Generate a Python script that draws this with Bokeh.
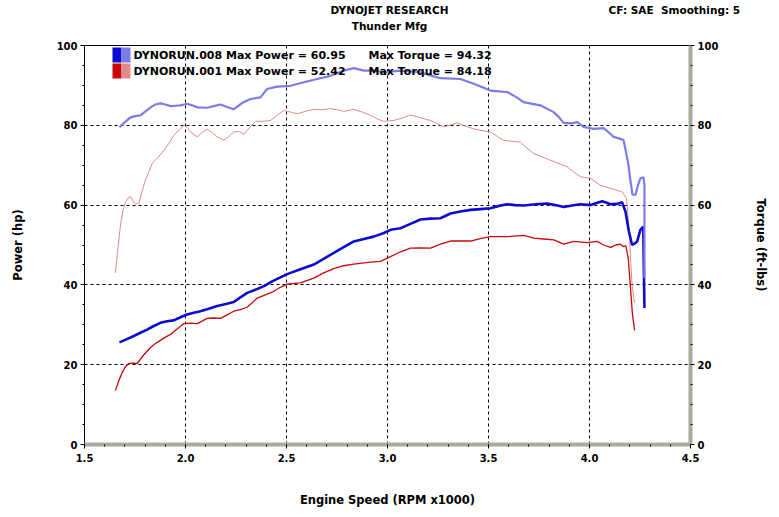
from bokeh.plotting import figure
from bokeh.models import (Range1d, LinearAxis, SingleIntervalTicker, FixedTicker, Label,
                          BoxAnnotation, NumeralTickFormatter)
from bokeh.embed import file_html
from bokeh.resources import INLINE

# ---------------- data ----------------
run_names = ["DYNORUN.008", "DYNORUN.001"]
max_power = [60.95, 52.42]
max_torque = [94.32, 84.18]

header_title = "DYNOJET RESEARCH"
header_sub = "Thunder Mfg"
header_right = "CF: SAE\u00a0 Smoothing: 5"

rpm_pw008 = [1.673, 1.710, 1.744, 1.777, 1.810, 1.843, 1.876, 1.909, 1.942, 1.975, 2.008, 2.041,
             2.074, 2.107, 2.157, 2.200, 2.239, 2.270, 2.305, 2.337, 2.388, 2.429, 2.470, 2.503,
             2.569, 2.635, 2.734, 2.833, 2.883, 2.932, 2.982, 3.015, 3.064, 3.114, 3.163, 3.212,
             3.262, 3.312, 3.361, 3.411, 3.460, 3.510, 3.551, 3.592, 3.634, 3.675, 3.733, 3.790,
             3.830, 3.873, 3.914, 3.955, 4.005, 4.035, 4.063, 4.085, 4.104, 4.135, 4.162, 4.178,
             4.195, 4.211, 4.224, 4.236, 4.252, 4.266, 4.272]
pw008 = [25.6, 26.4, 27.2, 28.0, 28.8, 29.7, 30.5, 30.9, 31.1, 31.9, 32.6, 33.0,
         33.4, 33.9, 34.7, 35.2, 35.7, 36.8, 38.0, 38.6, 39.7, 40.9, 41.9, 42.7,
         43.9, 45.1, 48.0, 50.9, 51.5, 52.1, 53.0, 53.8, 54.2, 55.3, 56.4, 56.6,
         56.7, 57.9, 58.4, 58.8, 59.0, 59.2, 59.8, 60.2, 60.0, 59.9, 60.2, 60.4,
         60.0, 59.5, 59.9, 60.2, 60.0, 60.5, 60.95, 60.6, 60.2, 60.3, 60.7, 58.4,
         53.4, 50.0, 50.4, 50.9, 53.8, 54.6, 34.2]

rpm_tq008 = [1.673, 1.700, 1.728, 1.752, 1.777, 1.802, 1.827, 1.851, 1.876, 1.901, 1.926, 1.950,
             1.975, 2.008, 2.033, 2.058, 2.107, 2.140, 2.173, 2.206, 2.238, 2.262, 2.287, 2.322,
             2.371, 2.404, 2.454, 2.520, 2.586, 2.652, 2.718, 2.784, 2.833, 2.883, 2.932, 2.982,
             3.064, 3.163, 3.212, 3.262, 3.361, 3.427, 3.510, 3.594, 3.640, 3.673, 3.757, 3.822,
             3.850, 3.871, 3.910, 3.940, 3.970, 4.020, 4.070, 4.100, 4.119, 4.153, 4.168, 4.180,
             4.193, 4.203, 4.213, 4.228, 4.240, 4.252, 4.267, 4.272, 4.272]
tq008 = [79.5, 80.8, 82.0, 82.3, 82.5, 83.5, 84.5, 85.2, 85.5, 85.2, 84.8, 84.9,
         85.0, 85.4, 85.0, 84.5, 84.4, 84.8, 85.2, 84.6, 84.0, 84.9, 85.8, 86.6,
         87.0, 89.1, 89.7, 89.9, 90.8, 91.6, 92.4, 93.7, 94.32, 93.7, 93.7, 93.3,
         93.7, 93.3, 92.5, 91.8, 91.6, 90.4, 88.7, 88.3, 87.0, 85.8, 85.0, 83.3,
         82.0, 80.6, 80.5, 80.8, 79.6, 79.1, 79.3, 78.0, 77.1, 76.6, 76.3, 73.5,
         70.0, 66.0, 62.6, 62.6, 65.0, 66.7, 67.0, 65.0, 41.7]

rpm_pw001 = [1.653, 1.670, 1.686, 1.703, 1.719, 1.740, 1.761, 1.794, 1.827, 1.851, 1.876, 1.901,
             1.926, 1.960, 1.992, 2.025, 2.058, 2.107, 2.140, 2.173, 2.206, 2.239, 2.272, 2.305,
             2.330, 2.355, 2.396, 2.437, 2.470, 2.503, 2.569, 2.635, 2.684, 2.734, 2.783, 2.833,
             2.916, 2.965, 3.015, 3.064, 3.114, 3.163, 3.213, 3.262, 3.312, 3.361, 3.411, 3.460,
             3.510, 3.592, 3.640, 3.675, 3.724, 3.773, 3.823, 3.873, 3.922, 3.988, 4.038, 4.070,
             4.104, 4.130, 4.153, 4.166, 4.180, 4.192, 4.202, 4.212, 4.223]
pw001 = [13.5, 16.0, 18.0, 19.5, 20.3, 20.4, 20.3, 22.5, 24.3, 25.3, 26.1, 26.9,
         27.6, 29.0, 30.3, 30.4, 30.3, 31.6, 31.7, 31.6, 32.5, 33.4, 33.8, 34.4,
         35.5, 36.7, 37.5, 38.4, 39.4, 40.2, 40.5, 41.7, 43.0, 44.1, 44.8, 45.2,
         45.7, 45.9, 47.1, 48.3, 49.2, 49.3, 49.2, 50.2, 51.0, 51.0, 51.0, 51.6,
         52.1, 52.1, 52.3, 52.42, 51.7, 51.5, 51.3, 50.2, 50.9, 50.6, 50.9, 50.0,
         49.4, 50.0, 50.2, 49.6, 49.8, 46.5, 40.0, 33.0, 28.6]

rpm_tq001 = [1.653, 1.665, 1.678, 1.690, 1.703, 1.716, 1.728, 1.740, 1.752, 1.769, 1.785, 1.802,
             1.835, 1.864, 1.893, 1.918, 1.942, 1.975, 1.992, 2.008, 2.025, 2.058, 2.083, 2.107,
             2.132, 2.157, 2.190, 2.214, 2.239, 2.264, 2.289, 2.318, 2.347, 2.384, 2.421, 2.454,
             2.487, 2.520, 2.553, 2.594, 2.635, 2.676, 2.718, 2.751, 2.784, 2.833, 2.875, 2.916,
             2.949, 2.982, 3.031, 3.073, 3.114, 3.163, 3.213, 3.246, 3.279, 3.345, 3.386, 3.427,
             3.510, 3.545, 3.576, 3.658, 3.690, 3.724, 3.790, 3.840, 3.889, 3.922, 3.955, 4.005,
             4.054, 4.104, 4.162, 4.183, 4.195, 4.203, 4.211, 4.223]
tq001 = [43.0, 49.0, 55.0, 58.5, 60.8, 61.8, 62.1, 61.0, 60.2, 60.5, 63.5, 66.3,
         70.4, 72.0, 73.7, 75.5, 77.5, 79.1, 80.0, 79.5, 78.3, 77.1, 78.2, 79.0,
         78.2, 77.1, 76.3, 77.2, 78.3, 78.5, 77.7, 79.5, 81.0, 81.0, 81.2, 82.5,
         83.7, 83.3, 82.9, 83.5, 84.0, 83.9, 84.18, 83.9, 83.5, 84.0, 83.3, 82.5,
         81.6, 81.0, 81.2, 81.8, 82.6, 81.9, 81.2, 80.4, 79.6, 80.6, 79.8, 79.1,
         78.3, 77.2, 76.2, 75.8, 74.3, 72.9, 71.6, 70.6, 69.6, 68.3, 67.1, 66.7,
         65.0, 64.2, 63.3, 61.7, 55.0, 46.7, 40.0, 35.5]

x_ticks_interval = 0.5
y_ticks_interval = 20

# ---------------- figure ----------------
FONT = "DejaVu Sans"

p = figure(width=779, height=517, x_range=Range1d(1.5, 4.5), y_range=Range1d(0, 100),
           output_backend="svg", toolbar_location=None,
           min_border_left=84, min_border_right=89, min_border_top=43, min_border_bottom=73)
p.extra_y_ranges = {"tq": Range1d(0, 100)}
p.background_fill_color = "white"
p.border_fill_color = "white"
p.outline_line_color = "black"
p.outline_line_width = 1

xt = SingleIntervalTicker(interval=x_ticks_interval, num_minor_ticks=5)
yt = SingleIntervalTicker(interval=y_ticks_interval, num_minor_ticks=4)

p.xaxis.ticker = xt
p.yaxis.ticker = yt
p.xgrid.ticker = xt
p.ygrid.ticker = yt
for g in (p.xgrid, p.ygrid):
    g.grid_line_color = "black"
    g.grid_line_dash = "3 3"
    g.grid_line_width = 1

right_axis = LinearAxis(y_range_name="tq", ticker=yt)
p.add_layout(right_axis, "right")

p.xaxis.formatter = NumeralTickFormatter(format="0.0")

shadow = "#a9a9a0"
for ax in (p.xaxis[0], p.yaxis[0], right_axis):
    ax.axis_line_color = None
    ax.major_tick_line_color = "black"
    ax.minor_tick_line_color = "black"
    ax.major_tick_out = 4
    ax.major_tick_in = 0
    ax.minor_tick_out = 2
    ax.minor_tick_in = 0
    ax.major_label_text_font = FONT
    ax.major_label_text_font_style = "bold"
    ax.major_label_text_font_size = "10px"
    ax.major_label_text_color = "black"
    ax.axis_label_text_font = FONT
    ax.axis_label_text_font_style = "bold"
    ax.axis_label_text_color = "black"

# grey "shadow" band along the bottom and right edges of the frame
for ax in (p.xaxis[0], right_axis):
    ax.axis_line_color = shadow
    ax.axis_line_width = 4

p.xaxis.axis_label = "Engine Speed (RPM x1000)"
p.xaxis.axis_label_text_font_size = "11.5px"
p.xaxis.major_label_standoff = 5
p.xaxis.axis_label_standoff = 28

p.yaxis[0].axis_label = "Power (hp)"
p.yaxis[0].axis_label_text_font_size = "11.5px"
p.yaxis[0].major_label_standoff = 3
p.yaxis[0].axis_label_standoff = 29

right_axis.axis_label = "Torque (ft-lbs)"
right_axis.axis_label_text_font_size = "11.5px"
right_axis.major_label_standoff = 3
right_axis.axis_label_standoff = 33

# ---------------- header texts (label rows above the frame) ----------------
hdr_center = 3.01
hdr_right = 4.42


def header_axis(ticks, overrides, standoff):
    a = LinearAxis(ticker=FixedTicker(ticks=ticks, minor_ticks=[]),
                   major_label_overrides=overrides)
    a.axis_line_color = None
    a.major_tick_line_color = None
    a.minor_tick_line_color = None
    a.major_tick_out = 0
    a.major_tick_in = 0
    a.major_label_standoff = standoff
    a.major_label_text_font = FONT
    a.major_label_text_font_style = "bold"
    a.major_label_text_font_size = "10.5px"
    a.major_label_text_color = "black"
    return a


p.add_layout(header_axis([hdr_center], {hdr_center: header_sub}, 14), "above")
p.add_layout(header_axis([hdr_center, hdr_right],
                         {hdr_center: header_title, hdr_right: header_right}, 1), "above")

# ---------------- curves ----------------
c_blue_dark = "#0c0cd0"
c_blue_light = "#7c7ce8"
c_red_dark = "#c80808"
c_red_light = "#e08a8a"

p.line(rpm_tq001, tq001, color=c_red_light, line_width=1, y_range_name="tq")
p.line(rpm_pw001, pw001, color=c_red_dark, line_width=1.3)
p.line(rpm_pw008, pw008, color=c_blue_dark, line_width=2.6)
p.line(rpm_tq008, tq008, color=c_blue_light, line_width=2.2, y_range_name="tq")

# ---------------- legend ----------------
FH = 401
sw = [(c_blue_dark, c_blue_light), (c_red_dark, c_red_light)]
for i in range(2):
    top = FH - 4 - 16 * i
    p.add_layout(BoxAnnotation(left=28, right=37, top=top, bottom=top - 15,
                               left_units="screen", right_units="screen",
                               bottom_units="screen", top_units="screen",
                               fill_color=sw[i][0], fill_alpha=1, line_color=None, level="overlay"))
    p.add_layout(BoxAnnotation(left=37, right=46, top=top, bottom=top - 15,
                               left_units="screen", right_units="screen",
                               bottom_units="screen", top_units="screen",
                               fill_color=sw[i][1], fill_alpha=1, line_color=None, level="overlay"))
    p.add_layout(Label(x=49, y=top - 8, x_units="screen", y_units="screen",
                       text=f"{run_names[i]} Max Power = {max_power[i]:.2f}",
                       text_font=FONT, text_font_style="bold", text_font_size="11px",
                       text_baseline="middle", text_align="left", text_color="black"))
    p.add_layout(Label(x=284, y=top - 8, x_units="screen", y_units="screen",
                       text=f"Max Torque = {max_torque[i]:.2f}",
                       text_font=FONT, text_font_style="bold", text_font_size="11px",
                       text_baseline="middle", text_align="left", text_color="black"))

open("out.html", "w").write(file_html(p, INLINE))
